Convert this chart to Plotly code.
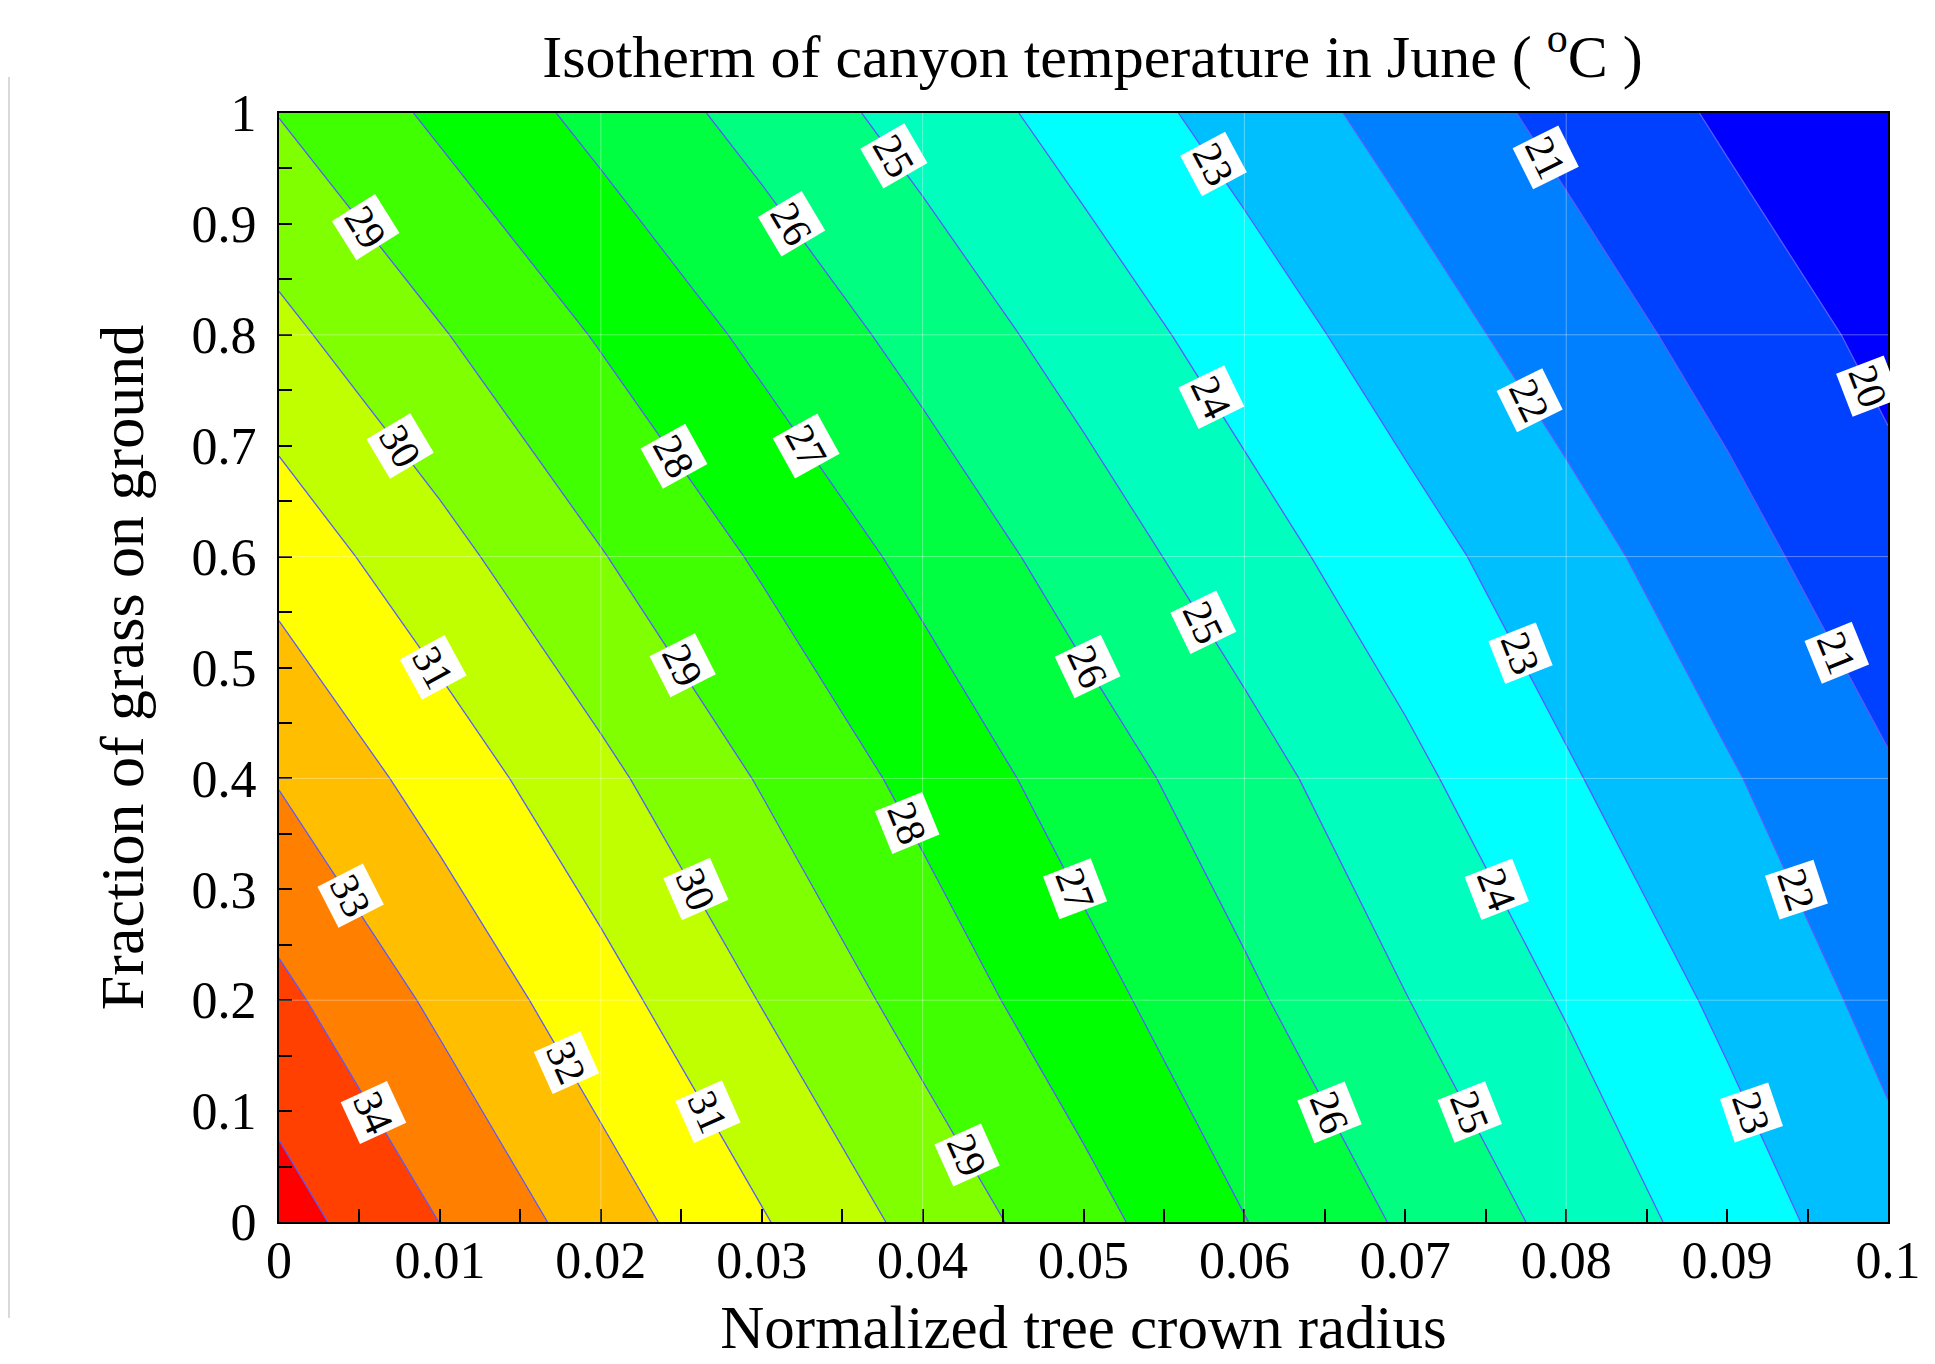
import numpy as np
import plotly.graph_objects as go

# ---------------- data ----------------
x_vals = [0.0, 0.01, 0.02, 0.03, 0.04, 0.05, 0.06, 0.07, 0.08, 0.09, 0.1]
y_vals = [0.0, 0.2, 0.4, 0.6, 0.8, 1.0]

temp_y00 = [35.44, 33.99, 32.51, 31.08, 29.68, 28.35, 27.03, 25.87, 24.71, 23.53, 22.37]
temp_y02 = [34.25, 32.79, 31.37, 29.96, 28.61, 27.36, 26.18, 25.03, 23.92, 22.80, 21.70]
temp_y04 = [32.93, 31.58, 30.24, 28.92, 27.70, 26.51, 25.39, 24.24, 23.11, 22.10, 21.10]
temp_y06 = [31.62, 30.32, 29.05, 27.87, 26.71, 25.55, 24.43, 23.39, 22.38, 21.36, 20.36]
temp_y08 = [30.25, 29.07, 27.91, 26.76, 25.65, 24.57, 23.53, 22.50, 21.52, 20.61, 19.75]
temp_y10 = [28.97, 27.81, 26.69, 25.64, 24.61, 23.59, 22.59, 21.63, 20.72, 19.85, 18.98]

level_start = 20
level_end = 35
level_step = 1

# band colours, lowest (<20) to highest (>35)
band_colors = ["#0000ff", "#0040ff", "#0080ff", "#00bfff", "#00ffff", "#00ffbf",
               "#00ff80", "#00ff40", "#00ff00", "#40ff00", "#80ff00", "#bfff00",
               "#ffff00", "#ffbf00", "#ff8000", "#ff4000", "#ff0000"]

x_tick_vals = [0.0, 0.01, 0.02, 0.03, 0.04, 0.05, 0.06, 0.07, 0.08, 0.09, 0.1]
x_tick_text = ["0", "0.01", "0.02", "0.03", "0.04", "0.05", "0.06", "0.07", "0.08", "0.09", "0.1"]
y_tick_vals = [0.0, 0.1, 0.2, 0.3, 0.4, 0.5, 0.6, 0.7, 0.8, 0.9, 1.0]
y_tick_text = ["0", "0.1", "0.2", "0.3", "0.4", "0.5", "0.6", "0.7", "0.8", "0.9", "1"]

# contour labels: which isotherm, and the grass fraction where it is labelled
label_levels = [25, 23, 21, 29, 26, 20, 24, 22, 30, 28, 27, 25, 31, 29, 26, 23, 21,
                28, 33, 30, 27, 24, 22, 32, 34, 31, 26, 25, 23, 29]
label_rows = [0.961, 0.954, 0.96, 0.897, 0.9, 0.754, 0.744, 0.741, 0.7, 0.691, 0.7,
              0.541, 0.5, 0.502, 0.501, 0.513, 0.513, 0.36, 0.294, 0.3, 0.3, 0.3, 0.3,
              0.144, 0.099, 0.099, 0.099, 0.099, 0.099, 0.06]

grid_x = [0.02, 0.04, 0.06, 0.08]
grid_y = [0.2, 0.4, 0.6, 0.8]

# ---------------- layout constants ----------------
W, H = 1935, 1364
ML, MR, MT, MB = 271, 55, 105, 150
FONT = "Liberation Serif, Times New Roman, serif"
LABEL_TILT = 6  # extra rotation of label boxes (style)

xs = np.array(x_vals)
ys = np.array(y_vals)
Z = np.array([temp_y00, temp_y02, temp_y04, temp_y06, temp_y08, temp_y10])

# evenly spaced discrete colourscale: band k is evaluated at k/(n-1)
n_col = len(band_colors)
cs = [[k / (n_col - 1), c] for k, c in enumerate(band_colors)]

fig = go.Figure()
fig.add_trace(go.Contour(
    x=x_vals, y=y_vals, z=Z.tolist(),
    autocontour=False,
    contours=dict(start=level_start, end=level_end, size=level_step,
                  coloring="fill", showlabels=False),
    colorscale=cs, showscale=False,
    line=dict(color="#5a5aff", width=1.3, smoothing=0),
    hoverinfo="skip",
))


def zrow(yv):
    return np.array([np.interp(yv, ys, Z[:, j]) for j in range(len(xs))])


def zval(xv, yv):
    return float(np.interp(xv, xs, zrow(yv)))


plot_w = W - ML - MR
plot_h = H - MT - MB
px_x = plot_w / (xs[-1] - xs[0])
px_y = plot_h / (ys[-1] - ys[0])

annotations = []
for lev, yr in zip(label_levels, label_rows):
    row = zrow(yr)
    xc = float(np.interp(lev, row[::-1], xs[::-1]))
    hx, hy = 0.0005, 0.01
    xa, xb = max(xc - hx, xs[0]), min(xc + hx, xs[-1])
    ya, yb = max(yr - hy, 0.0), min(yr + hy, 1.0)
    dzdx = (zval(xb, yr) - zval(xa, yr)) / (xb - xa)
    dzdy = (zval(xc, yb) - zval(xc, ya)) / (yb - ya)
    gX = dzdx / px_x
    gY = -dzdy / px_y
    ang = float(np.degrees(np.arctan2(-gX, gY))) + LABEL_TILT
    annotations.append(dict(
        x=xc, y=yr, xref="x", yref="y", text=str(lev), showarrow=False,
        textangle=ang, bgcolor="white", borderpad=2,
        font=dict(family=FONT, size=41, color="black"),
    ))

shapes = []
for gx in grid_x:
    shapes.append(dict(type="line", xref="x", yref="y", x0=gx, x1=gx, y0=0, y1=1,
                       line=dict(color="rgba(255,255,255,0.35)", width=1), layer="above"))
for gy in grid_y:
    shapes.append(dict(type="line", xref="x", yref="y", x0=0, x1=0.1, y0=gy, y1=gy,
                       line=dict(color="rgba(255,255,255,0.35)", width=1), layer="above"))
# faint frame line at the far left of the reference figure
shapes.append(dict(type="line", xref="paper", yref="paper",
                   x0=(1 - ML) / plot_w, x1=(1 - ML) / plot_w,
                   y0=(H - MB - 69) / plot_h, y1=(H - MB - 1310) / plot_h,
                   line=dict(color="#d9d9d9", width=2)))

axis_common = dict(
    showgrid=False, zeroline=False, showline=True, linecolor="black", linewidth=2,
    mirror=True, ticks="inside", ticklen=13, tickwidth=2, tickcolor="black",
    tickfont=dict(family=FONT, size=52, color="black"),
)

fig.update_layout(
    width=W, height=H,
    margin=dict(l=ML, r=MR, t=MT, b=MB),
    paper_bgcolor="white", plot_bgcolor="white",
    font=dict(family=FONT, color="black"),
    title=dict(text="Isotherm of canyon temperature in June ( <sup>o</sup>C )",
               x=0.5056, xref="paper", xanchor="center",
               y=1 - 48 / H, yref="container", yanchor="middle",
               font=dict(family=FONT, size=60, color="black")),
    xaxis=dict(range=[0, 0.1], tickvals=x_tick_vals, ticktext=x_tick_text,
               ticklabelstandoff=-8,
               minor=dict(ticks="inside", dtick=0.005, ticklen=13, tickwidth=2,
                          tickcolor="black", showgrid=False),
               title=dict(text="Normalized tree crown radius",
                          font=dict(family=FONT, size=61, color="black"), standoff=17),
               **axis_common),
    yaxis=dict(range=[0, 1], tickvals=y_tick_vals, ticktext=y_tick_text,
               ticklabelstandoff=10,
               minor=dict(ticks="inside", dtick=0.05, ticklen=13, tickwidth=2,
                          tickcolor="black", showgrid=False),
               title=dict(text="Fraction of grass on ground",
                          font=dict(family=FONT, size=62, color="black"), standoff=28),
               **axis_common),
    annotations=annotations,
    shapes=shapes,
)

fig.write_html("out.html")
